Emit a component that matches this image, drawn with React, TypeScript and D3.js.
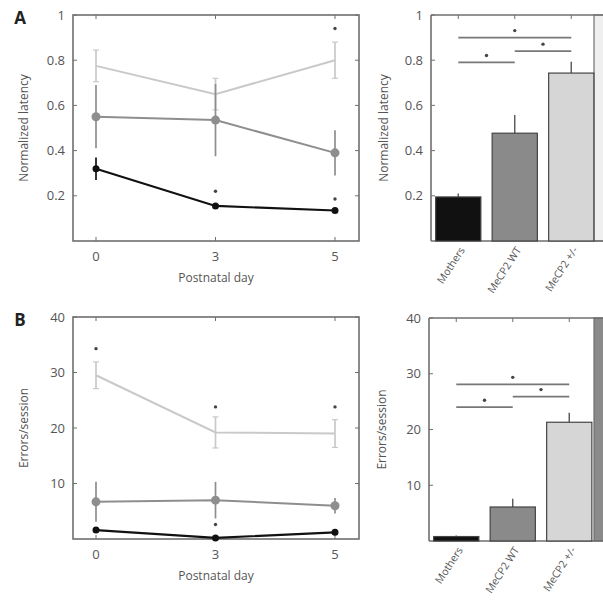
import React from "react";
import * as d3 from "d3";

const days = ["0", "3", "5"];
const groups = ["Mothers", "MeCP2 WT", "MeCP2 +/-"];

// Panel A line (normalized latency)
const latLight = [0.775, 0.65, 0.8];
const latLightErr = [0.07, 0.07, 0.08];
const latMid = [0.55, 0.535, 0.39];
const latMidErr = [0.14, 0.16, 0.1];
const latBlack = [0.32, 0.155, 0.135];
const latBlackErr = [0.05, 0.012, 0.01];
const latStars = [
  { day: 1, v: 0.22 },
  { day: 2, v: 0.186 },
  { day: 2, v: 0.94 },
];

// Panel A bars
const latBars = [0.195, 0.477, 0.743];
const latBarsErr = [0.015, 0.08, 0.05];
const latSig = [
  { a: 0, b: 2, v: 0.9 },
  { a: 1, b: 2, v: 0.84 },
  { a: 0, b: 1, v: 0.79 },
];

// Panel B line (errors/session)
const errLight = [29.5, 19.2, 19.0];
const errLightErr = [2.4, 2.8, 2.5];
const errMid = [6.7, 7.0, 6.0];
const errMidErr = [3.6, 3.3, 1.4];
const errBlack = [1.6, 0.2, 1.2];
const errBlackErr = [0.4, 0.2, 0.3];
const errStars = [
  { day: 0, v: 34.3 },
  { day: 1, v: 23.8 },
  { day: 2, v: 23.8 },
  { day: 1, v: 2.6 },
];

// Panel B bars
const errBars = [0.8, 6.1, 21.3];
const errBarsErr = [0.2, 1.5, 1.7];
const errSig = [
  { a: 0, b: 2, v: 28.1 },
  { a: 1, b: 2, v: 25.9 },
  { a: 0, b: 1, v: 24.0 },
];

const latTicks = [0.2, 0.4, 0.6, 0.8, 1];
const errTicks = [10, 20, 30, 40];

const AX = "#6f6f6f";
const TXT = "#555";
const LIGHT = "#c9c9c9";
const MID = "#8e8e8e";
const DARK = "#111";
const FONT = "'Open Sans', 'DejaVu Sans', sans-serif";

type Series = { v: number[]; e: number[]; color: string; r: number; w: number; cap: number };

function Star({ x, y }: { x: number; y: number }) {
  return <circle cx={x} cy={y} r={1.7} fill="#444" />;
}

function LinePanel({
  top,
  bottom,
  domain,
  ticks,
  tickFmt,
  series,
  stars,
  ylabel,
  letter,
}: {
  top: number;
  bottom: number;
  domain: [number, number];
  ticks: number[];
  tickFmt: (v: number) => string;
  series: Series[];
  stars: { day: number; v: number }[];
  ylabel: string;
  letter: string;
}) {
  const left = 73;
  const right = 359;
  const x = d3.scalePoint<string>().domain(days).range([96, 335]);
  const y = d3.scaleLinear().domain(domain).range([bottom, top]);
  const line = d3
    .line<number>()
    .x((_, i) => x(days[i]) as number)
    .y((d) => y(d));
  return (
    <g>
      <text x={20} y={top + 9} fontSize={17} fontWeight="bold" fill="#222" textAnchor="middle" fontFamily={FONT}>
        {letter}
      </text>
      <rect x={left} y={top} width={right - left} height={bottom - top} fill="none" stroke={AX} strokeWidth={1.6} />
      {ticks.map((t) => (
        <g key={t}>
          <line x1={left} x2={left + 4} y1={y(t)} y2={y(t)} stroke={AX} />
          <line x1={right - 4} x2={right} y1={y(t)} y2={y(t)} stroke={AX} />
          <text x={left - 8} y={y(t) + 4.5} fontSize={13} fill={TXT} textAnchor="end" fontFamily={FONT}>
            {tickFmt(t)}
          </text>
        </g>
      ))}
      {days.map((d) => (
        <g key={d}>
          <line x1={x(d)} x2={x(d)} y1={bottom} y2={bottom - 4} stroke={AX} />
          <line x1={x(d)} x2={x(d)} y1={top} y2={top + 4} stroke={AX} />
          <text x={x(d)} y={bottom + 20} fontSize={13} fill={TXT} textAnchor="middle" fontFamily={FONT}>
            {d}
          </text>
        </g>
      ))}
      <text x={(left + right) / 2} y={bottom + 41} fontSize={12} fill={TXT} textAnchor="middle" fontFamily={FONT}>
        Postnatal day
      </text>
      <text
        transform={`translate(28,${(top + bottom) / 2}) rotate(-90)`}
        fontSize={12}
        fill={TXT}
        textAnchor="middle"
        fontFamily={FONT}
      >
        {ylabel}
      </text>
      {series.map((s, si) => (
        <g key={si}>
          {s.v.map((v, i) => {
            const cx = x(days[i]) as number;
            return (
              <g key={i}>
                <line x1={cx} x2={cx} y1={y(v + s.e[i])} y2={y(v - s.e[i])} stroke={s.color} strokeWidth={1.7} />
                {s.cap > 0 && (
                  <>
                    <line x1={cx - s.cap} x2={cx + s.cap} y1={y(v + s.e[i])} y2={y(v + s.e[i])} stroke={s.color} strokeWidth={1.2} />
                    <line x1={cx - s.cap} x2={cx + s.cap} y1={y(v - s.e[i])} y2={y(v - s.e[i])} stroke={s.color} strokeWidth={1.2} />
                  </>
                )}
              </g>
            );
          })}
          <path d={line(s.v) as string} fill="none" stroke={s.color} strokeWidth={s.w} />
          {s.r > 0 &&
            s.v.map((v, i) => <circle key={i} cx={x(days[i]) as number} cy={y(v)} r={s.r} fill={s.color} />)}
        </g>
      ))}
      {stars.map((s, i) => (
        <Star key={i} x={x(days[s.day]) as number} y={y(s.v)} />
      ))}
    </g>
  );
}

function BarPanel({
  top,
  bottom,
  left,
  domain,
  ticks,
  tickFmt,
  values,
  errs,
  sig,
  ylabel,
  stripColor,
}: {
  top: number;
  bottom: number;
  left: number;
  domain: [number, number];
  ticks: number[];
  tickFmt: (v: number) => string;
  values: number[];
  errs: number[];
  sig: { a: number; b: number; v: number }[];
  ylabel: string;
  stripColor: string;
}) {
  const x = d3.scaleBand<string>().domain(groups).range([left - 1, left + 168.5]).paddingInner(0.2).paddingOuter(0.1);
  const y = d3.scaleLinear().domain(domain).range([bottom, top]);
  const fills = [DARK, "#8a8a8a", "#d6d6d6"];
  const bw = x.bandwidth();
  const cx = (i: number) => (x(groups[i]) as number) + bw / 2;
  return (
    <g>
      <rect x={594} y={top} width={12} height={bottom - top} fill={stripColor} stroke={AX} strokeWidth={1.2} />
      <line x1={left} x2={603} y1={top} y2={top} stroke={AX} strokeWidth={1.6} />
      <line x1={left} x2={603} y1={bottom} y2={bottom} stroke={AX} strokeWidth={1.6} />
      <line x1={left} x2={left} y1={top} y2={bottom} stroke={AX} strokeWidth={1.6} />
      {ticks.map((t) => (
        <g key={t}>
          <line x1={left} x2={left + 4} y1={y(t)} y2={y(t)} stroke={AX} />
          <text x={left - 8} y={y(t) + 4.5} fontSize={13} fill={TXT} textAnchor="end" fontFamily={FONT}>
            {tickFmt(t)}
          </text>
        </g>
      ))}
      {groups.map((g, i) => (
        <line key={g} x1={cx(i)} x2={cx(i)} y1={top} y2={top + 4} stroke={AX} />
      ))}
      <text
        transform={`translate(${left - 43},${(top + bottom) / 2}) rotate(-90)`}
        fontSize={12}
        fill={TXT}
        textAnchor="middle"
        fontFamily={FONT}
      >
        {ylabel}
      </text>
      {values.map((v, i) => (
        <g key={i}>
          <line x1={cx(i)} x2={cx(i)} y1={y(v)} y2={y(v + errs[i])} stroke="#555" strokeWidth={1.4} />
          <rect
            x={x(groups[i]) as number}
            y={y(v)}
            width={bw}
            height={y(domain[0]) - y(v)}
            fill={fills[i]}
            stroke="#444"
            strokeWidth={1.2}
          />
        </g>
      ))}
      {groups.map((g, i) => (
        <text
          key={g}
          transform={`translate(${cx(i) + 7},${bottom + 9}) rotate(-57)`}
          fontSize={10.5}
          fill={TXT}
          textAnchor="end"
          fontFamily={FONT}
        >
          {g}
        </text>
      ))}
      {sig.map((s, i) => (
        <g key={i}>
          <line x1={cx(s.a)} x2={cx(s.b)} y1={y(s.v)} y2={y(s.v)} stroke="#777" strokeWidth={1.8} />
          <Star x={(cx(s.a) + cx(s.b)) / 2} y={y(s.v) - 7} />
        </g>
      ))}
    </g>
  );
}

export default function App() {
  const fmtLat = (v: number) => (v === 1 ? "1" : String(v));
  const fmtErr = (v: number) => String(v);
  return (
    <svg
      width={603}
      height={603}
      style={{ position: "absolute", left: 0, top: 0, background: "#fff" }}
    >
      <rect width={603} height={603} fill="#fff" />
      <LinePanel
        top={15}
        bottom={241}
        domain={[0, 1]}
        ticks={latTicks}
        tickFmt={fmtLat}
        letter="A"
        ylabel="Normalized latency"
        series={[
          { v: latLight, e: latLightErr, color: LIGHT, r: 0, w: 2, cap: 3 },
          { v: latMid, e: latMidErr, color: MID, r: 4.5, w: 2, cap: 0 },
          { v: latBlack, e: latBlackErr, color: DARK, r: 3.5, w: 2.2, cap: 0 },
        ]}
        stars={latStars}
      />
      <BarPanel
        top={15}
        bottom={241}
        left={431}
        domain={[0, 1]}
        ticks={latTicks}
        tickFmt={fmtLat}
        values={latBars}
        errs={latBarsErr}
        sig={latSig}
        ylabel="Normalized latency"
        stripColor="#efefef"
      />
      <LinePanel
        top={317}
        bottom={539}
        domain={[0, 40]}
        ticks={errTicks}
        tickFmt={fmtErr}
        letter="B"
        ylabel="Errors/session"
        series={[
          { v: errLight, e: errLightErr, color: LIGHT, r: 0, w: 2, cap: 3 },
          { v: errMid, e: errMidErr, color: MID, r: 4.5, w: 2, cap: 0 },
          { v: errBlack, e: errBlackErr, color: DARK, r: 3.5, w: 2.2, cap: 0 },
        ]}
        stars={errStars}
      />
      <BarPanel
        top={318}
        bottom={541}
        left={429}
        domain={[0, 40]}
        ticks={errTicks}
        tickFmt={fmtErr}
        values={errBars}
        errs={errBarsErr}
        sig={errSig}
        ylabel="Errors/session"
        stripColor="#8a8a8a"
      />
    </svg>
  );
}
